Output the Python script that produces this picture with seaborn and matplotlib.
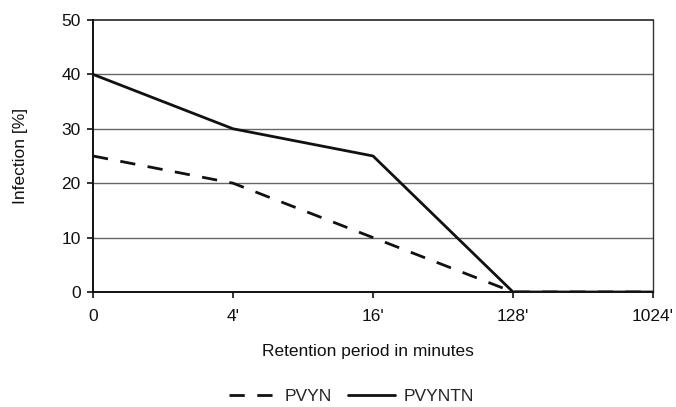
import matplotlib
matplotlib.use('Agg')
import matplotlib.pyplot as plt
import seaborn as sns
import pandas as pd

# data
periods = ["0", "4'", "16'", "128'", "1024'"]
pvyn = [25, 20, 10, 0, 0]
pvyntn = [40, 30, 25, 0, 0]

sns.set_style('white')
plt.rcParams['font.family'] = ['Liberation Sans', 'DejaVu Sans']

df = pd.DataFrame({
    'infection': pvyn + pvyntn,
    'strain': ['PVYN'] * len(periods) + ['PVYNTN'] * len(periods),
})
df['x'] = list(range(len(periods))) * 2

ink = '#111111'
dash = (5.5, 4.5)

fig = plt.figure(figsize=(6.76, 4.07), dpi=100)
ax = fig.add_axes([0.1376, 0.2826, 0.8284, 0.6683])

for y in [10, 20, 30, 40]:
    ax.axhline(y, color='#666666', lw=1.0, zorder=0)

sns.lineplot(data=df, x='x', y='infection', hue='strain', style='strain',
             palette={'PVYN': ink, 'PVYNTN': ink},
             dashes={'PVYN': dash, 'PVYNTN': ''},
             linewidth=2.0, ax=ax, legend=False, zorder=3)

ax.set_xlim(0, len(periods) - 1)
ax.set_ylim(0, 50)
ax.set_xticks(range(len(periods)))
ax.set_xticklabels(periods)
ax.set_yticks([0, 10, 20, 30, 40, 50])
ax.tick_params(axis='both', direction='out', length=4, width=1.2,
               color=ink, labelsize=12.5, labelcolor=ink,
               left=True, bottom=True, pad=5)
ax.tick_params(axis='x', pad=8)

for s in ['left', 'bottom', 'top']:
    ax.spines[s].set_color(ink)
    ax.spines[s].set_linewidth(1.4)
ax.spines['top'].set_linewidth(1.1)
ax.spines['right'].set_color('#333333')
ax.spines['right'].set_linewidth(1.0)

ax.set_xlabel('Retention period in minutes', fontsize=12.5, color=ink, va='center')
ax.xaxis.set_label_coords(0.491, -0.2206)
ax.set_ylabel('Infection [%]', fontsize=12.5, color=ink, va='center')
ax.yaxis.set_label_coords(-0.130, 0.5)

handles = [
    plt.Line2D([], [], color=ink, lw=2.0, dashes=dash),
    plt.Line2D([], [], color=ink, lw=2.0),
]
fig.legend(handles, ['PVYN', 'PVYNTN'], loc='center', bbox_to_anchor=(0.52, 0.027),
           ncol=2, frameon=False, fontsize=12.5, handlelength=2.7,
           columnspacing=0.9, handletextpad=0.5, borderpad=0)

fig.savefig('out.png', dpi=100)
